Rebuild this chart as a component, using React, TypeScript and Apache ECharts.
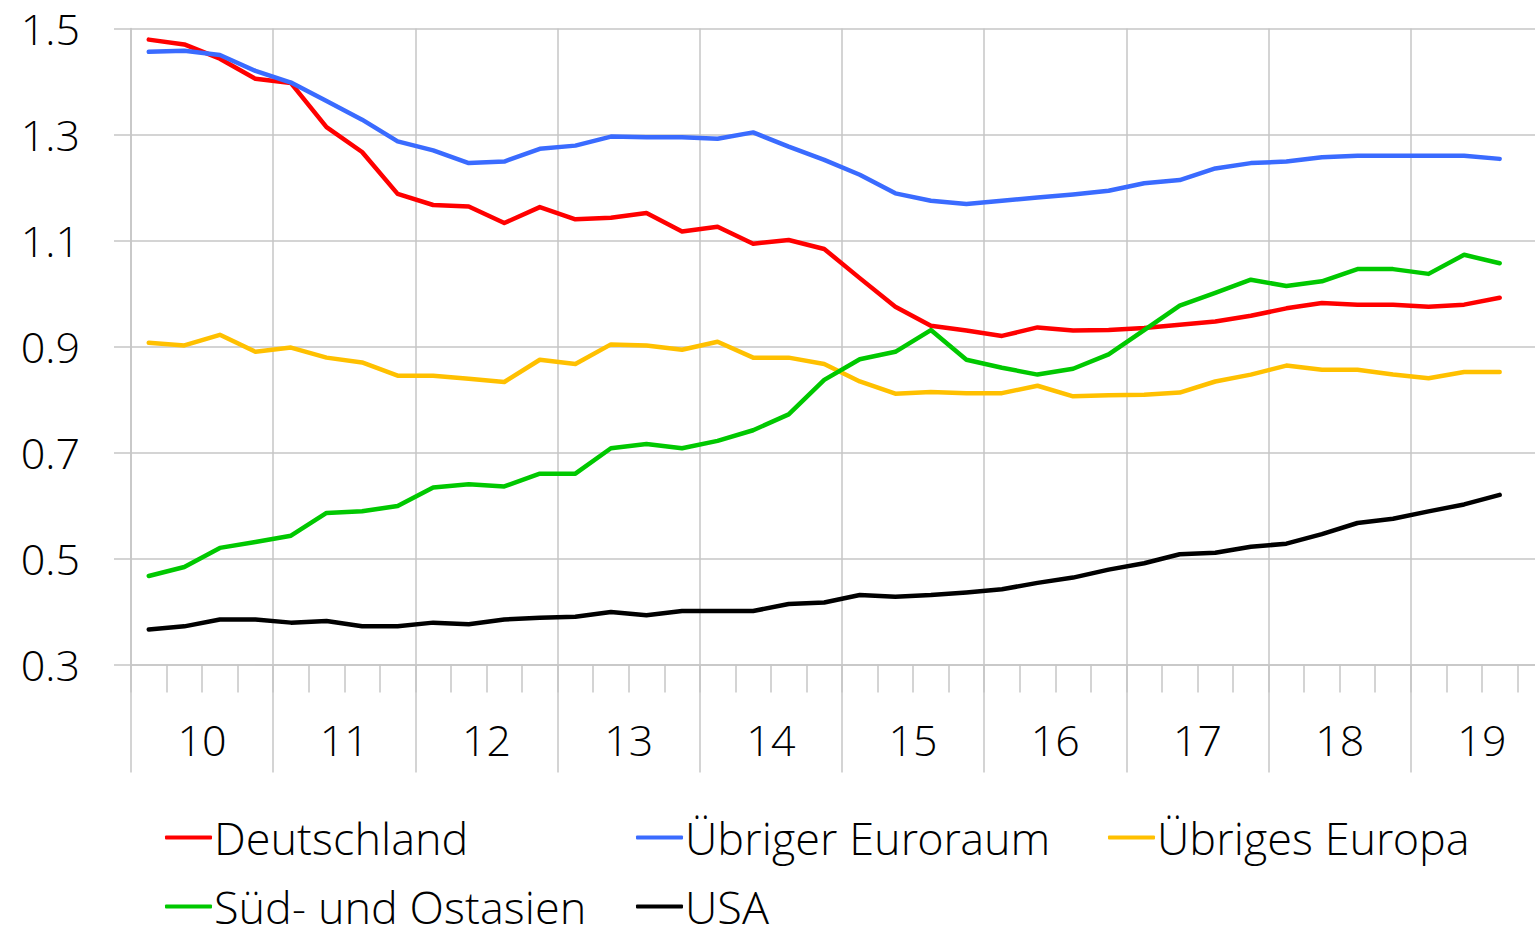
import React, { useEffect, useRef } from "react";
import * as echarts from "echarts";

const yearLabels = ["10", "11", "12", "13", "14", "15", "16", "17", "18", "19"];
const quarterNames = ["Q1", "Q2", "Q3", "Q4"];
const quarterCategories = yearLabels.flatMap((y) => quarterNames.map((q) => `20${y} ${q}`));

const deutschland = [1.479, 1.47, 1.443, 1.405, 1.397, 1.314, 1.267, 1.188, 1.167, 1.164, 1.133, 1.163, 1.14, 1.143, 1.152, 1.117, 1.126, 1.094, 1.101, 1.084, 1.029, 0.975, 0.939, 0.93, 0.92, 0.936, 0.93, 0.931, 0.935, 0.941, 0.947, 0.958, 0.972, 0.982, 0.979, 0.979, 0.975, 0.979, 0.992];
const uebrigerEuroraum = [1.456, 1.458, 1.45, 1.42, 1.398, 1.363, 1.328, 1.287, 1.27, 1.246, 1.249, 1.273, 1.279, 1.296, 1.295, 1.295, 1.292, 1.304, 1.277, 1.252, 1.224, 1.189, 1.175, 1.169, 1.175, 1.181, 1.187, 1.194, 1.208, 1.214, 1.236, 1.246, 1.249, 1.257, 1.26, 1.26, 1.26, 1.26, 1.254];
const uebrigesEuropa = [0.907, 0.902, 0.922, 0.89, 0.898, 0.879, 0.87, 0.845, 0.845, 0.839, 0.833, 0.875, 0.867, 0.904, 0.902, 0.894, 0.909, 0.879, 0.879, 0.867, 0.834, 0.811, 0.814, 0.812, 0.812, 0.826, 0.806, 0.808, 0.809, 0.813, 0.834, 0.847, 0.864, 0.856, 0.856, 0.847, 0.84, 0.852, 0.852];
const suedOstasien = [0.467, 0.484, 0.52, 0.531, 0.543, 0.586, 0.589, 0.599, 0.634, 0.64, 0.636, 0.66, 0.66, 0.708, 0.716, 0.708, 0.722, 0.742, 0.772, 0.837, 0.876, 0.89, 0.931, 0.875, 0.86, 0.847, 0.858, 0.885, 0.931, 0.977, 1.001, 1.026, 1.014, 1.023, 1.046, 1.046, 1.037, 1.073, 1.057];
const usa = [0.366, 0.372, 0.385, 0.385, 0.379, 0.382, 0.372, 0.372, 0.379, 0.376, 0.385, 0.388, 0.39, 0.399, 0.393, 0.401, 0.401, 0.401, 0.414, 0.417, 0.431, 0.428, 0.431, 0.436, 0.442, 0.454, 0.464, 0.479, 0.491, 0.508, 0.511, 0.522, 0.528, 0.546, 0.567, 0.575, 0.589, 0.602, 0.62];

const seriesNames = ["Deutschland", "Übriger Euroraum", "Übriges Europa", "Süd- und Ostasien", "USA"];
const seriesColors = ["#ff0000", "#3a6bff", "#ffc000", "#00c800", "#000000"];
const seriesData = [deutschland, uebrigerEuroraum, uebrigesEuropa, suedOstasien, usa];

const FONT = "'Open Sans Light', 'Open Sans', 'Noto Sans', sans-serif";
const GRID = "#c6c6c6";

export default function App() {
  const ref = useRef<HTMLDivElement>(null);
  useEffect(() => {
    if (!ref.current) return;
    const chart = echarts.init(ref.current, null, { renderer: "svg" });
    const legendPos = [
      { left: 165, top: 815 },
      { left: 636, top: 815 },
      { left: 1108, top: 815 },
      { left: 165, top: 884 },
      { left: 636, top: 884 },
    ];
    chart.setOption({
      animation: false,
      backgroundColor: "#ffffff",
      grid: { left: 131, right: 0, top: 28.5, bottom: 263.5, containLabel: false },
      legend: seriesNames.map((n, i) => ({
        data: [n],
        left: legendPos[i].left,
        top: legendPos[i].top,
        padding: 0,
        icon: "roundRect",
        itemWidth: 47,
        itemHeight: 4,
        itemGap: 0,
        selectedMode: false,
        textStyle: { fontFamily: FONT, fontWeight: 300, fontSize: 45, color: "#000", lineHeight: 36, padding: [0, 0, 0, -3] },
      })),
      xAxis: [
        {
          type: "category",
          data: quarterCategories,
          boundaryGap: true,
          position: "bottom",
          axisLine: { show: true, lineStyle: { color: GRID, width: 1.5 } },
          axisTick: { show: true, interval: 0, length: 28, lineStyle: { color: GRID, width: 1.5 } },
          axisLabel: { show: false },
          splitLine: { show: false },
        },
        {
          type: "category",
          data: yearLabels,
          boundaryGap: true,
          position: "bottom",
          axisLine: { show: false },
          axisTick: { show: true, interval: 0, length: 108, lineStyle: { color: GRID, width: 1.5 } },
          axisLabel: { show: true, interval: 0, margin: 53, fontFamily: FONT, fontWeight: 300, fontSize: 43, lineHeight: 44, color: "#000" },
          splitLine: { show: true, interval: 0, lineStyle: { color: GRID, width: 1.5 } },
        },
      ],
      yAxis: {
        type: "value",
        min: 0.3,
        max: 1.5,
        interval: 0.2,
        axisLine: { show: true, lineStyle: { color: GRID, width: 1.5 } },
        axisTick: { show: true, length: 17, lineStyle: { color: GRID, width: 1.5 } },
        axisLabel: { margin: 51, fontFamily: FONT, fontWeight: 300, fontSize: 43, color: "#000", formatter: (v: number) => v.toFixed(1) },
        splitLine: { show: true, lineStyle: { color: GRID, width: 1.5 } },
      },
      series: seriesNames.map((n, i) => ({
        name: n,
        type: "line",
        xAxisIndex: 0,
        data: seriesData[i],
        showSymbol: false,
        symbol: "none",
        color: seriesColors[i],
        lineStyle: { color: seriesColors[i], width: 4.5, cap: "round", join: "round" },
      })),
    });
    return () => chart.dispose();
  }, []);
  return (
    <div style={{ position: "absolute", left: 0, top: 0, width: 1535, height: 928, overflow: "hidden", background: "#fff" }}>
      <div ref={ref} style={{ position: "absolute", left: 0, top: 0, width: 1553, height: 928 }} />
    </div>
  );
}
